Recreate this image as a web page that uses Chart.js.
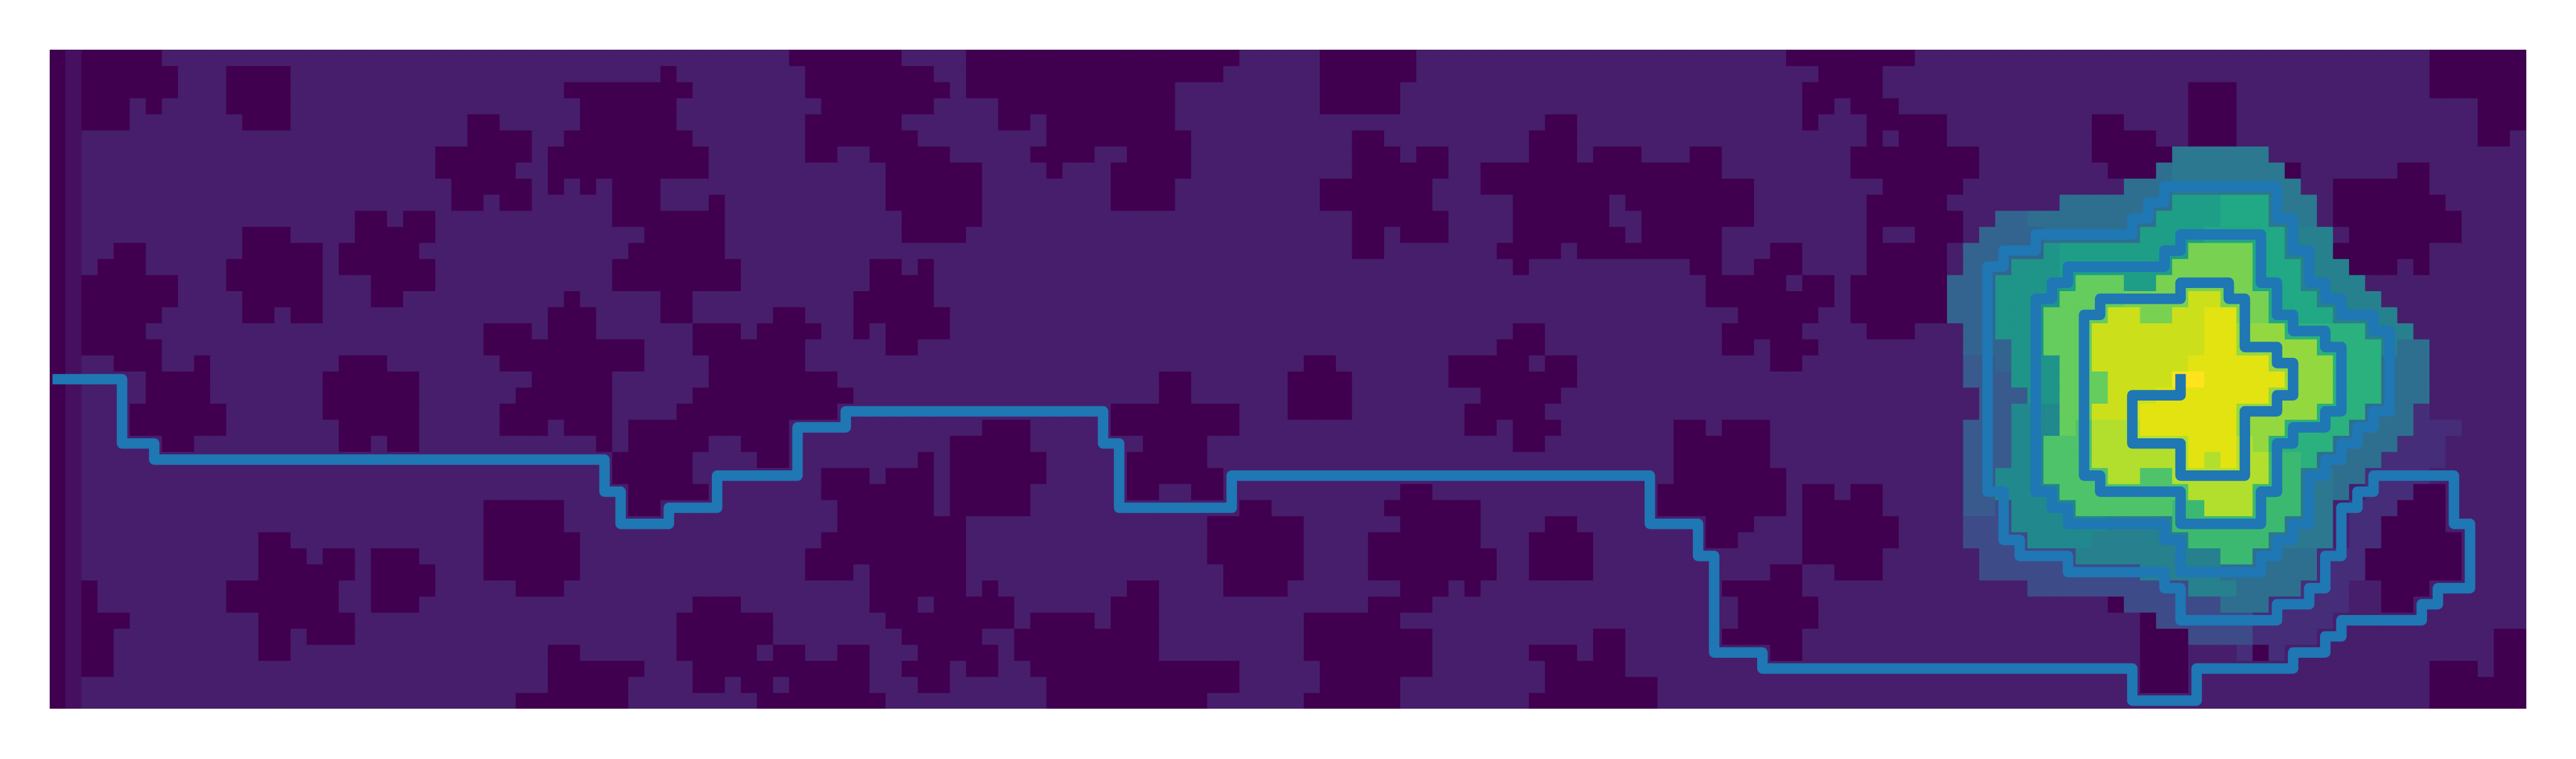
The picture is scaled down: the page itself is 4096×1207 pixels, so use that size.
<!DOCTYPE html>
<html>
<head>
<meta charset="utf-8">
<style>html,body{margin:0;padding:0;background:#fff}canvas{display:block}</style>
<script src="https://cdn.jsdelivr.net/npm/chart.js@4"></script>
</head>
<body>
<canvas id="c" width="4096" height="1207"></canvas>
<script>
const columnCount = 154;
const rowCount = 41;
const levelNames = "abcdefghijklmnopqrstuvwx";
const levelColors = ["#40004f","#460f60","#471e6c","#462d79","#3e4b89","#385a8d","#33648f","#2e6f90","#2b7890","#26808e","#21888d","#1f9489","#1e9e87","#21a884","#2bb17d","#3cb971","#4fc36a","#65cc5e","#79d151","#94d840","#b2df2d","#cbe01b","#e3e312","#ffe31f"];
const backgroundLevel = 2;
const columnZeroLevel = 0;
const columnOneLevel = 1;
// per row: [start,end, start,end, ...] columns holding the lowest value
const lowRuns = [
[2,7,46,53,57,74,79,85,108,116,148,154],
[2,8,11,15,38,39,47,55,57,73,79,85,110,114,148,154],
[2,8,11,15,32,40,47,56,57,70,79,84,109,114,133,136,148,154],
[2,5,6,7,11,15,33,39,48,55,59,70,79,84,109,111,112,115,133,136,151,154],
[2,5,12,15,26,28,33,39,47,53,59,61,62,70,93,95,109,110,113,118,127,129,133,136,151,154],
[26,30,32,40,47,54,62,71,81,83,92,95,113,114,115,118,127,131,133,136,151,153],
[24,30,31,41,47,49,51,56,61,65,67,71,81,84,85,87,92,95,96,99,102,104,112,120,127,132],
[24,29,31,41,52,58,62,63,66,71,81,87,89,104,112,120,128,131,139,140,146,148],
[25,30,31,32,33,34,35,38,52,58,66,70,79,86,89,106,114,119,142,148],
[25,27,28,30,35,38,41,42,52,58,66,70,79,86,91,97,98,106,113,118,142,149],
[19,21,22,24,35,42,53,58,81,87,91,97,99,106,113,119,142,150],
[12,15,19,24,37,42,53,57,81,83,84,87,91,98,99,104,113,114,116,119,143,150],
[4,6,12,17,18,23,36,42,81,83,90,94,95,104,107,109,113,118,142,148],
[3,6,11,17,18,24,35,43,51,53,54,55,91,92,102,104,106,109,113,118,143,146,147,148],
[2,8,11,17,20,24,35,43,51,55,103,108,109,111,112,118],
[2,8,12,17,20,22,32,33,38,40,50,55,103,111,112,118],
[2,7,12,14,15,17,31,34,38,40,45,47,50,56,105,110,112,118],
[2,6,27,30,31,34,40,43,44,48,50,51,52,56,91,93,104,109,113,116],
[2,7,27,37,40,47,52,54,90,93,104,106,107,110],
[4,7,9,10,18,21,28,37,41,47,78,80,87,92,93,95,107,109],
[6,10,17,23,30,35,41,49,69,71,77,81,87,95],
[6,10,17,23,29,35,40,50,69,71,77,81,89,94],
[5,11,17,23,28,35,39,49,66,74,77,81,88,93],
[5,11,18,23,28,31,32,35,36,46,58,61,66,74,88,90,91,94,101,103,104,107],
[7,9,18,20,21,23,34,35,36,41,43,46,56,61,68,72,91,93,101,107],
[35,40,44,46,54,55,56,62,67,72,101,107],
[35,40,48,51,52,55,56,62,67,73,101,108],
[36,41,48,55,56,61,67,69,71,73,84,86,100,108,109,111,112,114,147,149],
[27,32,36,38,49,55,56,61,74,76,83,89,100,108,109,114,146,149],
[27,32,49,57,72,78,84,89,93,95,103,106,109,115,145,149],
[13,15,27,33,48,57,72,78,82,89,92,96,103,105,109,115,145,150],
[13,16,17,19,20,23,27,33,47,57,72,78,82,90,92,96,109,114,144,150],
[13,19,20,24,27,33,47,50,51,57,73,78,82,90,92,96,107,109,111,114,144,150],
[2,3,11,18,20,24,29,32,51,57,58,59,67,69,73,77,84,87,88,89,104,109,145,148],
[2,3,11,18,20,23,40,43,51,54,55,60,66,69,82,86,105,110,128,129,145,147],
[2,5,13,19,39,45,52,60,61,65,66,69,78,84,105,110,130,131],
[2,4,13,15,16,19,39,45,53,58,60,69,78,86,96,98,104,109,130,133,152,154],
[2,4,13,15,31,33,39,44,45,47,49,51,54,59,60,69,78,86,92,95,96,98,107,109,130,133,137,138,152,154],
[2,4,31,37,40,51,53,56,57,59,61,74,79,86,93,98,130,133,148,151,152,154],
[31,36,40,42,43,45,46,51,54,56,62,74,79,84,93,100,130,133,148,154],
[29,36,44,52,62,72,78,84,92,100,148,154]
];
// per row: start:end:level runs of the raised values around the peak
const peakRuns = {
6:"132:138:i",
7:"131:132:h 132:139:i",
8:"129:132:h 132:140:i",
9:"125:132:h 132:135:m 135:138:n 138:141:i",
10:"121:123:g 123:131:h 131:135:m 135:138:n 138:141:i",
11:"120:124:g 124:130:h 130:134:m 134:139:n 139:142:j",
12:"119:124:g 124:125:l 125:133:m 133:137:s 137:139:n 139:142:j",
13:"119:122:g 122:125:l 125:132:m 132:137:s 137:140:n 140:143:j",
14:"118:121:g 121:125:l 125:126:m 126:129:r 129:131:m 131:137:s 137:140:n 140:144:j",
15:"118:121:g 121:125:l 125:129:r 129:133:s 133:135:v 135:138:s 138:141:n 141:145:j",
16:"118:121:g 121:124:l 124:128:r 128:130:v 130:132:s 132:134:v 134:136:w 136:138:s 138:142:n 142:146:j",
17:"119:121:g 121:124:l 124:127:r 127:134:v 134:136:w 136:139:t 139:144:o 144:147:j",
18:"119:122:g 122:124:l 124:127:r 127:134:v 134:136:w 136:141:t 141:145:o 145:146:j 146:148:h",
19:"119:121:f 121:122:g 122:125:l 125:127:r 127:133:v 133:138:w 138:142:t 142:145:o 145:148:h",
20:"119:122:f 122:125:l 125:128:r 128:132:v 132:134:x 134:139:w 139:142:t 142:145:o 145:148:h",
21:"120:123:f 123:125:l 125:128:r 128:131:v 131:138:w 138:142:t 142:145:o 145:148:h",
22:"120:122:f 122:125:k 125:127:r 127:130:v 130:136:w 136:141:t 141:144:o 144:147:h 147:148:d",
23:"119:122:f 122:125:k 125:126:r 126:127:q 127:130:u 130:136:w 136:139:t 139:143:o 143:147:h 147:150:d",
24:"119:122:f 122:124:k 124:127:q 127:133:u 133:136:w 136:137:u 137:138:t 138:142:o 142:146:h 146:149:d",
25:"119:122:f 122:124:k 124:127:q 127:133:u 133:134:w 134:135:u 135:136:w 136:138:u 138:140:p 140:141:o 141:145:h 145:149:d",
26:"119:121:f 121:124:k 124:128:q 128:130:u 130:132:q 132:138:u 138:140:p 140:142:i 142:144:h 144:148:d",
27:"119:121:f 121:125:k 125:133:q 133:137:u 137:140:p 140:142:i 142:143:h 144:147:d",
28:"119:121:f 121:122:e 122:126:k 126:132:q 132:134:p 134:137:u 137:140:p 140:142:i 143:146:d",
29:"119:122:e 122:128:k 128:132:j 132:139:p 139:142:i 143:145:d",
30:"119:123:e 123:127:k 127:133:j 133:138:p 138:142:i 143:145:d",
31:"120:126:e 126:135:j 135:137:p 137:141:h 141:144:d",
32:"120:130:e 130:135:j 135:141:h 141:144:d",
33:"123:133:e 133:136:j 136:140:h 140:143:d",
34:"129:135:e 135:138:h 138:143:d",
35:"131:137:e 137:142:d",
36:"133:137:e 137:141:d",
37:"136:137:d 138:139:d"
};
// ridge path vertices, as column and row indexes of cell centres
const pathColumns = [0,4,4,6,6,34,34,35,35,38,38,41,41,46,46,49,49,65,65,66,66,73,73,99,99,102,102,103,103,106,106,129,129,133,133,139,139,141,141,142,142,147,147,148,148,150,150,149,149,144,144,143,143,142,142,141,141,140,140,138,138,132,132,131,131,125,125,122,122,121,121,120,120,121,121,123,123,129,129,130,130,131,131,138,138,139,139,140,140,141,141,142,142,144,144,145,145,144,144,143,143,142,142,141,141,140,140,139,139,138,138,137,137,132,132,131,131,125,125,124,124,123,123,124,124,125,125,131,131,132,132,137,137,138,138,139,139,141,141,142,142,141,141,139,139,138,138,137,137,132,132,127,127,126,126,127,127,132,132,135,135,136,136,138,138,139,139,138,138,136,136,132,132,129,129,132,132];
const pathRows =    [20,20,24,24,25,25,27,27,29,29,28,28,26,26,23,23,22,22,24,24,28,28,26,26,29,29,31,31,37,37,38,38,40,40,38,38,37,37,36,36,35,35,34,34,33,33,29,29,26,26,27,27,28,28,31,31,33,33,34,34,35,35,33,33,32,32,31,31,30,30,27,27,13,13,12,12,11,11,10,10,9,9,8,8,10,10,12,12,14,14,15,15,16,16,17,17,22,22,23,23,24,24,25,25,26,26,29,29,30,30,31,31,32,32,30,30,29,29,28,28,27,27,15,15,14,14,13,13,12,12,11,11,14,14,16,16,17,17,18,18,22,22,23,23,24,24,27,27,29,29,27,27,26,26,16,16,15,15,14,14,15,15,18,18,19,19,21,21,22,22,26,26,24,24,21,21,20];

// build the value table
const cellValues = [];
for (let r = 0; r < rowCount; r++) {
  const row = new Array(columnCount).fill(backgroundLevel);
  row[0] = columnZeroLevel;
  row[1] = columnOneLevel;
  const low = lowRuns[r];
  for (let i = 0; i < low.length; i += 2) for (let c = low[i]; c < low[i + 1]; c++) row[c] = 0;
  if (peakRuns[r]) peakRuns[r].split(" ").forEach(s => {
    const [a, b, l] = s.split(":");
    for (let c = +a; c < +b; c++) row[c] = levelNames.indexOf(l);
  });
  cellValues.push(row);
}
const rowDatasets = cellValues.map((row, r) => ({
  type: "bar",
  label: "row " + r,
  data: row.map((v, c) => ({x: c + 0.5, y: 1})),
  backgroundColor: row.map(v => levelColors[v]),
  borderWidth: 0,
  inflateAmount: 0.6,
  barPercentage: 1,
  categoryPercentage: 1,
  stack: "grid",
  order: 2,
  xAxisID: "x",
  yAxisID: "y"
}));
const pathDataset = {
  type: "line",
  label: "ridge",
  data: pathColumns.map((c, i) => ({x: c + 0.5, y: pathRows[i] + 0.5})),
  borderColor: "#1f77b4",
  borderWidth: 16.7,
  borderCapStyle: "square",
  borderJoinStyle: "round",
  pointRadius: 0,
  tension: 0,
  fill: false,
  clip: false,
  order: 1,
  xAxisID: "x",
  yAxisID: "y2"
};
new Chart(document.getElementById("c"), {
  data: {datasets: [...rowDatasets, pathDataset]},
  options: {
    responsive: false,
    animation: false,
    events: [],
    devicePixelRatio: 1,
    layout: {padding: {left: 79, right: 79, top: 79, bottom: 80}},
    plugins: {legend: {display: false}, tooltip: {enabled: false}, title: {display: false}},
    scales: {
      x: {type: "linear", stacked: true, offset: false, min: 0, max: columnCount, display: false, grid: {display: false}},
      y: {type: "linear", stacked: true, reverse: true, min: 0, max: rowCount, display: false, grid: {display: false}},
      y2: {type: "linear", reverse: true, min: 0, max: rowCount, display: false}
    }
  }
});
</script>
</body>
</html>
